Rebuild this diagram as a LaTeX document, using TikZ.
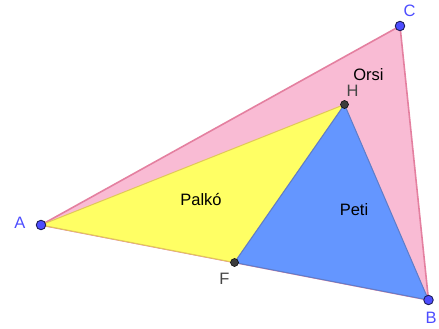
\documentclass[tikz,border=0pt]{standalone}
\usepackage{fontspec}
\setmainfont{Liberation Sans}
\begin{document}
\begin{tikzpicture}[x=1pt,y=-1pt,
  lbl/.style={font=\fontsize{16.5}{19}\selectfont, inner sep=0pt},
  bpt/.style={circle, fill=ptblue, draw=ptedge, line width=0.9pt, minimum size=9.5pt, inner sep=0pt},
  dpt/.style={circle, fill=ptdark, draw=black, line width=0.5pt, minimum size=8pt, inner sep=0pt}]
\definecolor{pinkfill}{RGB}{249,187,212}
\definecolor{pinkline}{RGB}{228,128,160}
\definecolor{yelfill}{RGB}{255,255,100}
\definecolor{yelline}{RGB}{225,200,90}
\definecolor{bluefill}{RGB}{100,150,255}
\definecolor{blueline}{RGB}{95,125,200}
\definecolor{ptblue}{RGB}{77,77,255}
\definecolor{ptedge}{RGB}{30,30,90}
\definecolor{ptdark}{RGB}{60,60,60}
\definecolor{lblblue}{RGB}{77,77,255}
\definecolor{lbldark}{RGB}{70,70,70}
\useasboundingbox (0,0) rectangle (439,329);
\coordinate (A) at (41,225);
\coordinate (C) at (400,26);
\coordinate (B) at (428.5,300);
\coordinate (H) at (344.5,104.5);
\coordinate (F) at (234.5,262.5);
\filldraw[fill=pinkfill, draw=pinkline, line width=1.6pt, line join=round] (A) -- (C) -- (B) -- cycle;
\filldraw[fill=yelfill, draw=yelline, line width=1pt, line join=round] (A) -- (H) -- (F) -- cycle;
\filldraw[fill=bluefill, draw=blueline, line width=1pt, line join=round] (F) -- (H) -- (B) -- cycle;
\node[bpt] (pA) at (A) {};
\node[bpt] (pC) at (C) {};
\node[bpt] (pB) at (B) {};
\node[dpt] (pH) at (H) {};
\node[dpt] (pF) at (F) {};
\node[lbl, text=lblblue] (lA) at (20,223) {A};
\node[lbl, text=lblblue] (lC) at (409.5,11) {C};
\node[lbl, text=lblblue] (lB) at (431,318) {B};
\node[lbl, text=lbldark] (lH) at (352.5,91) {H};
\node[lbl, text=lbldark] (lF) at (224.5,279) {F};
\node[lbl] (tO) at (368.5,75) {Orsi};
\node[lbl] (tP) at (201,200) {Palkó};
\node[lbl] (tPe) at (354,210) {Peti};
\end{tikzpicture}
\end{document}
